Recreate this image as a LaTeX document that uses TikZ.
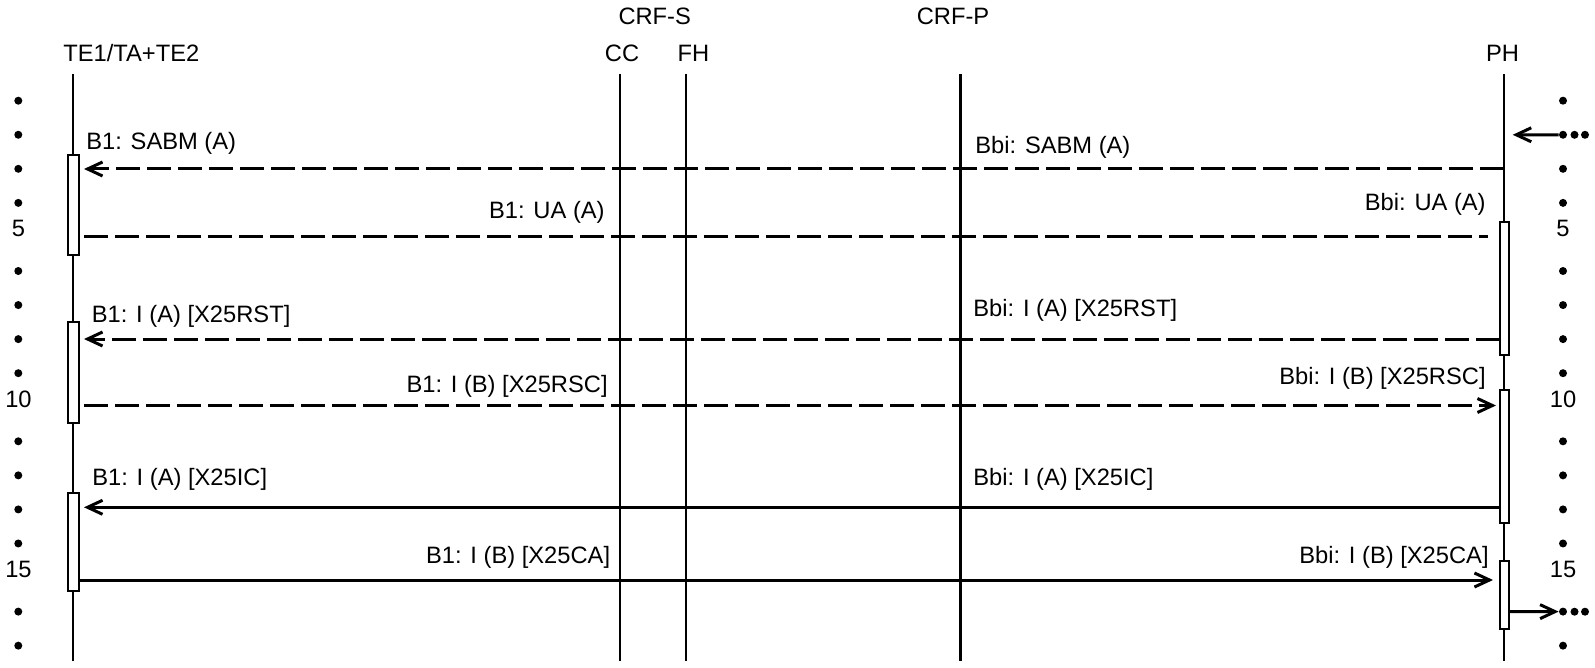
\documentclass[tikz,border=0pt]{standalone}
\usepackage{fontspec}
\setmainfont{Liberation Sans}
\usetikzlibrary{arrows.meta}

\begin{document}
\begin{tikzpicture}[x=0.5pt, y=-0.5pt, font=\fontsize{11.85}{14}\selectfont,
  life/.style={line width=1.2pt},
  actbox/.style={line width=1pt, fill=white},
  msg/.style={line width=1.5pt},
  dmsg/.style={msg, dash pattern=on 12pt off 3.5pt},
  tip/.style={-{Straight Barb[length=7.5pt,width=7pt]}},
  lab/.style={inner sep=0pt},
  dot/.style={circle, fill, inner sep=0pt, minimum size=4pt}]
\useasboundingbox (0,0) rectangle (1595,668);
\node[lab, anchor=base west] (te) at (63,61.7) {TE1/TA+TE2};
\node[lab, anchor=base] (crfs) at (654.7,25) {CRF-S};
\node[lab, anchor=base] (crfp) at (953,25) {CRF-P};
\node[lab, anchor=base] (cc) at (622,62) {CC};
\node[lab, anchor=base] (fh) at (693.5,62) {FH};
\node[lab, anchor=base] (ph) at (1502.5,61.5) {PH};
\coordinate (teT) at (73,74);    \coordinate (teB) at (73,661);
\coordinate (ccT) at (620,74);   \coordinate (ccB) at (620,661);
\coordinate (fhT) at (686,74);   \coordinate (fhB) at (686,661);
\coordinate (crfpT) at (960.5,74); \coordinate (crfpB) at (960.5,661);
\coordinate (phT) at (1504,74);  \coordinate (phB) at (1504,661);
\draw[life] (teT) -- (teB);
\draw[life] (ccT) -- (ccB);
\draw[life] (fhT) -- (fhB);
\draw[life] (crfpT) -- (crfpB);
\draw[life] (phT) -- (phB);
\draw[actbox] (67.5,155.5) rectangle (78.5,255.3);
\draw[actbox] (67.5,321.7) rectangle (78.5,422.7);
\draw[actbox] (67.5,492.7) rectangle (78.5,591);
\draw[actbox] (1499.5,222.3) rectangle (1508.5,355);
\draw[actbox] (1499.5,390) rectangle (1508.5,523.3);
\draw[actbox] (1499.5,560.7) rectangle (1508.5,629.3);
\coordinate (sabmP) at (1504,169);   \coordinate (sabmT) at (84,169);
\coordinate (uaT) at (84,237);       \coordinate (uaP) at (1488,237);
\coordinate (rstP) at (1499.5,339);  \coordinate (rstT) at (84,339);
\coordinate (rscT) at (84,405.5);    \coordinate (rscP) at (1496,405.5);
\coordinate (icP) at (1499.5,507.3); \coordinate (icT) at (84,507.3);
\coordinate (caT) at (78.5,580);     \coordinate (caP) at (1493,580);
\draw[dmsg, tip] (sabmP) -- (sabmT);
\draw[dmsg] (uaT) -- (uaP);
\draw[dmsg, tip] (rstP) -- (rstT);
\draw[dmsg, tip] (rscT) -- (rscP);
\draw[msg, tip] (icP) -- (icT);
\draw[msg, tip] (caT) -- (caP);
\node[lab, anchor=base west] (b1sabm) at (86,150) {B1: SABM (A)};
\node[lab, anchor=base west] (bbisabm) at (975,154) {Bbi: SABM (A)};
\node[lab, anchor=base east] (b1ua) at (605,219) {B1: UA (A)};
\node[lab, anchor=base east] (bbiua) at (1486,211) {Bbi: UA (A)};
\node[lab, anchor=base west] (b1rst) at (91.5,322) {B1: I (A) [X25RST]};
\node[lab, anchor=base west] (bbirst) at (973,316) {Bbi: I (A) [X25RST]};
\node[lab, anchor=base east] (b1rsc) at (608,392) {B1: I (B) [X25RSC]};
\node[lab, anchor=base east] (bbirsc) at (1486,384) {Bbi: I (B) [X25RSC]};
\node[lab, anchor=base west] (b1ic) at (92,485) {B1: I (A) [X25IC]};
\node[lab, anchor=base west] (bbiic) at (973,485) {Bbi: I (A) [X25IC]};
\node[lab, anchor=base east] (b1ca) at (610.5,563) {B1: I (B) [X25CA]};
\node[lab, anchor=base east] (bbica) at (1489,563) {Bbi: I (B) [X25CA]};
\foreach \k in {1,2,3,4,6,7,8,9,11,12,13,14,16,17} {
  \node[dot] (l\k) at (18.3,{100.7+34.06*(\k-1)}) {};
  \node[dot] (r\k) at (1563,{100.7+34.06*(\k-1)}) {};
}
\foreach \k in {5,10,15} {
  \node[lab, anchor=base] (nl\k) at (18.5,{100.7+34.06*(\k-1)}) {\k};
  \node[lab, anchor=base] (nr\k) at (1563,{100.7+34.06*(\k-1)}) {\k};
}
\node[dot] (r2b) at (1574.5,134.8) {};
\node[dot] (r2c) at (1585,134.8) {};
\node[dot] (r16b) at (1574.5,611.7) {};
\node[dot] (r16c) at (1585,611.7) {};
\coordinate (phIn) at (1512.7,134.8);
\coordinate (phOut) at (1508.5,611.7);
\draw[msg, tip] (r2) -- (phIn);
\draw[msg, tip] (phOut) -- (r16);
\end{tikzpicture}
\end{document}
